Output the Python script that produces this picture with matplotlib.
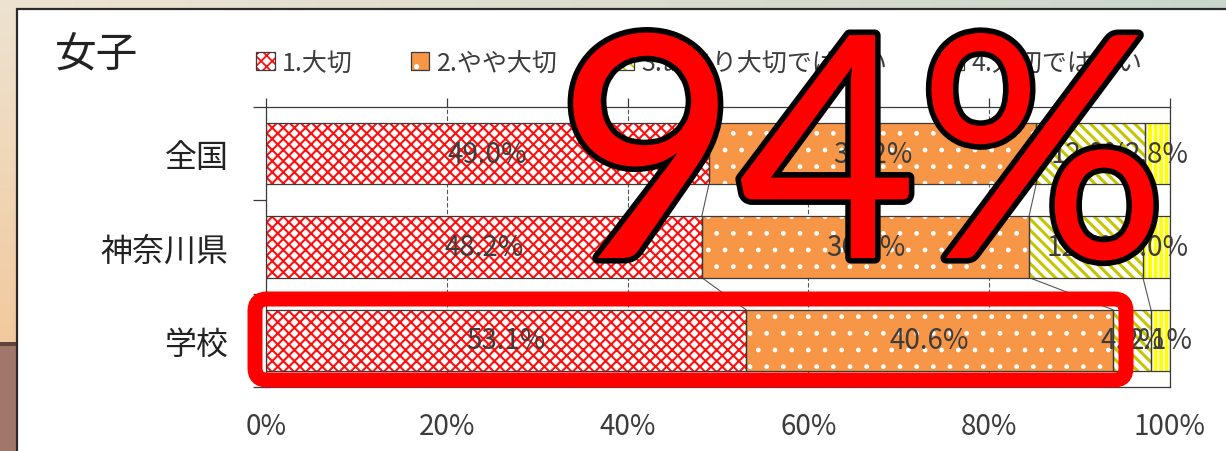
import numpy as np
import matplotlib
matplotlib.use('Agg')
import matplotlib.pyplot as plt
from matplotlib.patches import Rectangle, FancyBboxPatch, Patch
import matplotlib.patheffects as pe

plt.rcParams['font.family'] = ['Noto Sans CJK JP', 'DejaVu Sans']
plt.rcParams['hatch.linewidth'] = 1.3

# ---------------- data ----------------
categories = ['全国', '神奈川県', '学校']
series_names = ['1.大切', '2.やや大切', '3.あまり大切ではない', '4.大切ではない']
s1 = [49.0, 48.2, 53.1]
s2 = [36.2, 36.2, 40.6]
s3 = [12.0, 12.6, 4.2]
s4 = [2.8, 3.0, 2.1]
xticks = [0, 20, 40, 60, 80, 100]
xtick_labels = ['0%', '20%', '40%', '60%', '80%', '100%']
title = '女子'
overlay_text = '94%'

# ---------------- styles ----------------
styles = [
    dict(face='white', hatch='xxx', hcolor='#FF1010', hlw=1.5),
    dict(face='#F79646', hatch='.', hcolor='white', hlw=1.0),
    dict(face='white', hatch='\\\\\\', hcolor='#C6C600', hlw=2.2),
    dict(face='#FFFF00', hatch='|||', hcolor='white', hlw=1.2),
]
edge_dark = '#3a3a3a'
text_col = '#3c3c3c'

W, H = 1226, 452
fig = plt.figure(figsize=(W / 100, H / 100), dpi=100)

# ---------------- background ----------------
bg = fig.add_axes([0, 0, 1, 1], zorder=0)
bg.set_xlim(0, W)
bg.set_ylim(H, 0)
bg.axis('off')
yy, xx = np.mgrid[0:H, 0:W]
tl = np.array([0.93, 0.89, 0.82])
tr = np.array([0.79, 0.84, 0.80])
t = (xx / W)[..., None]
img = tl * (1 - t) + tr * t
strip = xx < 17
fy = np.clip(yy / 343.0, 0, 1)[..., None]
peach = tl * (1 - fy) + np.array([0.95, 0.79, 0.62]) * fy
img = np.where(strip[..., None], peach, img)
img[(yy >= 343) & (yy < 347) & strip] = [0.38, 0.27, 0.22]
img[(yy >= 347) & strip] = [0.63, 0.47, 0.41]
bg.imshow(img, extent=(0, W, H, 0), aspect='auto', zorder=0, interpolation='bilinear')
bg.add_patch(Rectangle((17, 10), W, H, facecolor='white', edgecolor='#2b2b2b', lw=1.6, zorder=1))
bg.text(55, 55, title, fontsize=30, va='center', ha='left', color='#222222', zorder=2)

# ---------------- chart ----------------
ax = fig.add_axes([266 / W, 1 - 388 / H, (1170 - 266) / W, 280 / H], zorder=1)
ax.set_facecolor('white')
y = np.arange(len(categories))
data = [s1, s2, s3, s4]
h = 0.655
left = np.zeros(len(categories))
for vals, st in zip(data, styles):
    vals = np.array(vals)
    bars = ax.barh(y, vals, left=left, height=h, color=st['face'], edgecolor=st['hcolor'],
                   hatch=st['hatch'], linewidth=0, zorder=2)
    for b in bars:
        if hasattr(b, 'set_hatch_linewidth'):
            b.set_hatch_linewidth(st['hlw'])
    outl = ax.barh(y, vals, left=left, height=h, fill=False, edgecolor=edge_dark,
                   linewidth=0.9, zorder=3)
    ax.bar_label(outl, labels=[f'{v:.1f}%' for v in vals], label_type='center',
                 fontsize=20, color=text_col, zorder=4)
    left = left + vals

# series lines
cum = np.cumsum(np.array(data), axis=0)
for j in range(3):
    for i in range(len(categories) - 1):
        ax.plot([cum[j, i], cum[j, i + 1]], [i + h / 2, i + 1 - h / 2],
                color='#555555', lw=0.8, zorder=1.5)

ax.set_xlim(0, 100)
ax.set_ylim(2.5, -0.5)
ax.set_xticks(xticks)
ax.set_xticklabels(xtick_labels)
ax.xaxis.set_ticks_position('top')
ax.tick_params(axis='x', top=True, bottom=False, labeltop=False, labelbottom=True,
               direction='out', length=6.5, width=0.9, color=edge_dark, pad=10.5,
               labelsize=20, labelcolor=text_col)
ax.set_yticks(y)
ax.set_yticklabels(categories)
ax.tick_params(axis='y', which='major', length=0, pad=27, labelsize=23, labelcolor='#222222')
ax.set_yticks([-0.5, 0.5, 1.5, 2.5], minor=True)
ax.tick_params(axis='y', which='minor', length=9.4, width=0.9, direction='out', color=edge_dark)
ax.xaxis.grid(True, linestyle=(0, (4, 2)), color='#555555', lw=0.8)
ax.set_axisbelow(True)
for sp in ax.spines.values():
    sp.set_color(edge_dark)
    sp.set_linewidth(0.9)

# legend
handles = []
for st in styles:
    p1 = Patch(facecolor=st['face'], edgecolor=st['hcolor'], hatch=st['hatch'], lw=0)
    p2 = Patch(fill=False, edgecolor=edge_dark, lw=0.9)
    handles.append((p1, p2))
fig.legend(handles, series_names, loc='center left', bbox_to_anchor=(256 / W, 1 - 64 / H),
           ncol=4, frameon=False, fontsize=18, handlelength=0.75, handleheight=0.75,
           handletextpad=0.3, columnspacing=2.3, borderpad=0, borderaxespad=0,
           labelcolor=text_col)

# ---------------- overlay ----------------
ov = fig.add_axes([0, 0, 1, 1], zorder=10)
ov.set_xlim(0, W)
ov.set_ylim(H, 0)
ov.axis('off')
ov.patch.set_alpha(0)
ov.add_patch(FancyBboxPatch((255, 300), 871, 81, boxstyle='round,pad=0,rounding_size=12',
                            fill=False, edgecolor='#FF0000', lw=15 * 0.72))
ov.text(862, 259, overlay_text, fontsize=224, family=['Lato', 'DejaVu Sans'], color='#FF0000',
        ha='center', va='baseline',
        path_effects=[pe.Stroke(linewidth=8, foreground='black', joinstyle='round', capstyle='round'),
                      pe.Normal()])

fig.savefig('out.png', dpi=100)
